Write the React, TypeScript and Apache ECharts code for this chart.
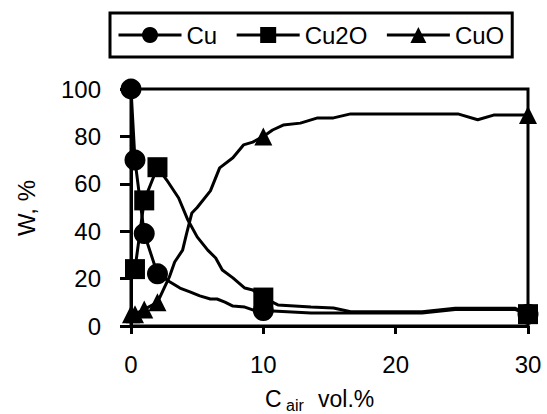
import React, { useEffect, useRef } from "react";
import * as echarts from "echarts";

const FONT = "'Liberation Sans', Arial, sans-serif";

const seriesNames = ["Cu", "Cu2O", "CuO"];

const xTicks = [0, 10, 20, 30];
const yTicks = [0, 20, 40, 60, 80, 100];

const cuPoints: [number, number][] = [
  [0, 100], [0.3, 70], [1, 39], [2, 22], [2.95, 18.6], [3.7, 16], [4.5, 14.3],
  [5.2, 12.7], [6, 11.4], [6.5, 11.4], [7.1, 10.1], [7.7, 8.4], [8.6, 8],
  [9.2, 6.8], [10, 6.5], [13.6, 5.5], [22, 5.5], [24.5, 7], [29, 7], [30, 5],
];
const cuMarkerX = [0, 0.3, 1, 2, 10, 30];

const cu2oPoints: [number, number][] = [
  [0.3, 24], [1, 53], [2, 67], [2.7, 61.6], [3.6, 54], [4.3, 44.7], [5, 37.6],
  [5.8, 32], [6.4, 28.7], [6.9, 23.6], [7.7, 20.3], [8.6, 16], [9.2, 15.2],
  [10, 12], [11.1, 8.9], [13.6, 8], [15.3, 7.6], [16.6, 6], [22, 6],
  [24.5, 7.5], [29, 7.5], [30, 5],
];
const cu2oMarkerX = [0.3, 1, 2, 10, 30];

const cuoPoints: [number, number][] = [
  [0, 5], [0.3, 5], [1, 7], [2, 10], [2.9, 20.7], [3.3, 27], [3.9, 32],
  [4.2, 39], [4.6, 47.7], [5, 50], [6, 57], [6.7, 66.7], [7.7, 71],
  [8.5, 76.4], [9.2, 77.6], [10, 80], [10.7, 82.7], [11.5, 84.8],
  [12.8, 85.6], [14.1, 87.8], [15.3, 87.8], [16.6, 89.5], [24.7, 89.5],
  [26.2, 87], [27.4, 89], [30, 89],
];
const cuoMarkerX = [0, 0.3, 1, 2, 10, 30];

function build(points: [number, number][], markers: number[]) {
  return points.map((p) =>
    markers.includes(p[0]) ? { value: p } : { value: p, symbol: "none" }
  );
}

export default function App() {
  const ref = useRef<HTMLDivElement>(null);
  useEffect(() => {
    if (!ref.current) return;
    const chart = echarts.init(ref.current, undefined, { renderer: "svg" });
    const lineStyle = { color: "#000", width: 3 };
    const mk = (name: string, data: any[], symbol: string, size: number) => ({
      name,
      type: "line",
      data,
      symbol,
      symbolSize: size,
      showSymbol: true,
      clip: false,
      lineStyle,
      itemStyle: { color: "#000", borderWidth: 0 },
      emphasis: { disabled: true },
    });
    chart.setOption({
      animation: false,
      backgroundColor: "#fff",
      legend: {
        left: 110,
        top: 13,
        orient: "horizontal",
        itemWidth: 63,
        itemHeight: 20,
        itemGap: 18,
        padding: [10, 8, 10, 7],
        borderColor: "#000",
        borderWidth: 3,
        data: seriesNames,
        lineStyle: { width: 3, color: "#000" },
        textStyle: { fontSize: 24, fontFamily: FONT, color: "#000" },
      },
      grid: {
        left: 131,
        right: 19,
        top: 89,
        bottom: 88,
        show: true,
        borderColor: "#000",
        borderWidth: 3,
        backgroundColor: "transparent",
      },
      xAxis: {
        type: "value",
        min: xTicks[0],
        max: xTicks[xTicks.length - 1],
        interval: 10,
        axisLine: { show: true, lineStyle: { color: "#000", width: 3 } },
        axisTick: { show: true, length: 8, lineStyle: { color: "#000", width: 3 } },
        splitLine: { show: false },
        axisLabel: { fontSize: 24, fontFamily: FONT, color: "#000", margin: 26 },
      },
      yAxis: {
        type: "value",
        min: yTicks[0],
        max: yTicks[yTicks.length - 1],
        interval: 20,
        axisLine: { show: true, lineStyle: { color: "#000", width: 3 } },
        axisTick: { show: true, length: 11, lineStyle: { color: "#000", width: 3 } },
        splitLine: { show: false },
        axisLabel: { fontSize: 24, fontFamily: FONT, color: "#000", margin: 30 },
      },
      graphic: [
        {
          type: "text",
          x: 26,
          y: 208,
          rotation: Math.PI / 2,
          style: {
            text: "W, %",
            fontSize: 24,
            fontFamily: FONT,
            fill: "#000",
            align: "center",
            verticalAlign: "middle",
          },
        },
        {
          type: "text",
          x: 265,
          y: 399,
          style: { text: "C", fontSize: 23, fontFamily: FONT, fill: "#000", align: "left", verticalAlign: "middle" },
        },
        {
          type: "text",
          x: 286,
          y: 405,
          style: { text: "air", fontSize: 16, fontFamily: FONT, fill: "#000", align: "left", verticalAlign: "middle" },
        },
        {
          type: "text",
          x: 318,
          y: 399,
          style: { text: "vol.%", fontSize: 23, fontFamily: FONT, fill: "#000", align: "left", verticalAlign: "middle" },
        },
      ],
      series: [
        mk(seriesNames[0], build(cuPoints, cuMarkerX), "circle", 21),
        mk(seriesNames[1], build(cu2oPoints, cu2oMarkerX), "rect", 20),
        mk(seriesNames[2], build(cuoPoints, cuoMarkerX), "triangle", 18),
      ],
    });
    return () => chart.dispose();
  }, []);
  return (
    <div
      ref={ref}
      style={{ position: "fixed", left: 0, top: 0, width: 547, height: 414 }}
    />
  );
}
